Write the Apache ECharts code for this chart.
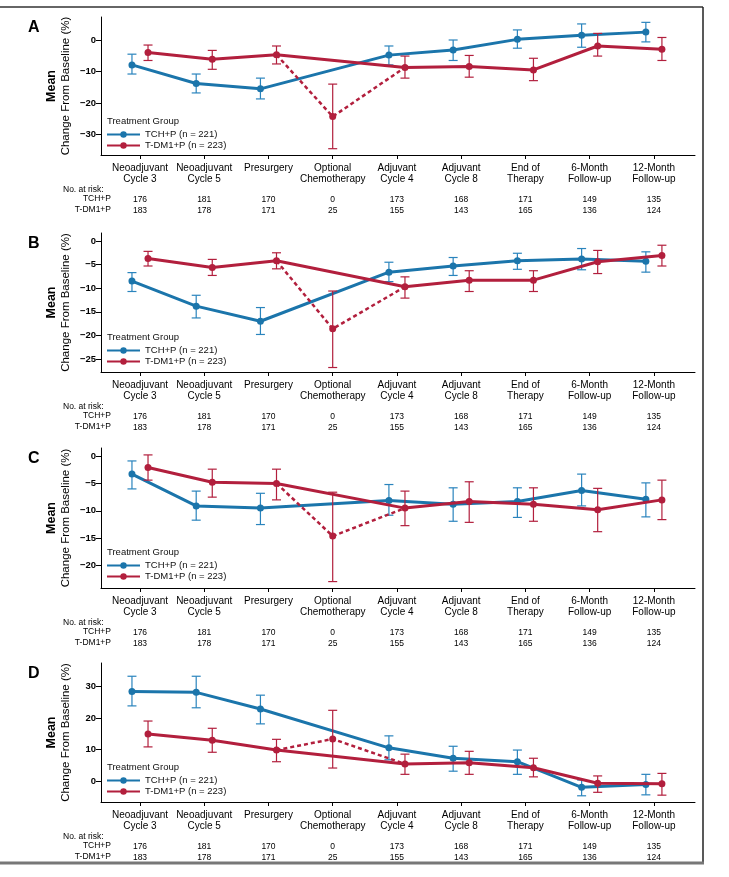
<!DOCTYPE html>
<html>
<head>
<meta charset="utf-8">
<script src="https://cdn.jsdelivr.net/npm/echarts@6/dist/echarts.min.js"></script>
<style>
html,body{margin:0;padding:0;background:#fff;}
#chart{width:729px;height:877px;}
</style>
</head>
<body>
<div id="chart"></div>
<script>
// ---------------- DATA ----------------
const categories = ['Neoadjuvant\nCycle 3','Neoadjuvant\nCycle 5','Presurgery\n ','Optional\nChemotherapy','Adjuvant\nCycle 4','Adjuvant\nCycle 8','End of\nTherapy','6-Month\nFollow-up','12-Month\nFollow-up'];
const atRiskTCH = [176,181,170,0,173,168,171,149,135];
const atRiskTDM1 = [183,178,171,25,155,143,165,136,124];
const seriesNames = ['TCH+P (n = 221)','T-DM1+P (n = 223)'];
const rowLabels = ['No. at risk:','TCH+P','T-DM1+P'];
const panelLetters = ['A','B','C','D'];

// Panel A
const aTicks = [-30,-20,-10,0];
const aTchMean = [-7.9,-13.8,-15.5,null,-4.8,-3.2,0.2,1.5,2.5];
const aTchLow  = [-10.8,-16.8,-18.7,null,-7.9,-6.5,-2.6,-2.3,-0.6];
const aTchHigh = [-4.5,-10.8,-12.1,null,-1.9,0.0,3.2,5.1,5.6];
const aTdmMean = [-4.0,-6.1,-4.7,-24.3,-8.7,-8.4,-9.5,-1.9,-2.9];
const aTdmLow  = [-6.5,-9.3,-7.6,-34.5,-12.1,-11.8,-12.9,-5.1,-6.5];
const aTdmHigh = [-1.6,-3.3,-1.9,-14.0,-5.1,-4.9,-5.8,2.1,0.8];

// Panel B
const bTicks = [-25,-20,-15,-10,-5,0];
const bTchMean = [-8.5,-13.8,-17.0,null,-6.6,-5.3,-4.2,-3.8,-4.3];
const bTchLow  = [-10.7,-16.3,-19.8,null,-8.6,-7.3,-6.0,-6.1,-6.6];
const bTchHigh = [-6.7,-11.5,-14.1,null,-4.5,-3.5,-2.6,-1.6,-2.3];
const bTdmMean = [-3.7,-5.6,-4.2,-18.6,-9.7,-8.3,-8.3,-4.4,-3.1];
const bTdmLow  = [-5.3,-7.3,-5.9,-26.8,-12.1,-10.7,-10.7,-6.9,-5.3];
const bTdmHigh = [-2.2,-3.9,-2.5,-10.6,-7.6,-6.3,-6.3,-2.0,-0.9];

// Panel C
const cTicks = [-20,-15,-10,-5,0];
const cTchMean = [-3.3,-9.1,-9.5,null,-8.1,-8.8,-8.3,-6.3,-7.9];
const cTchLow  = [-6.0,-11.7,-12.5,null,-10.8,-11.9,-11.2,-9.1,-11.1];
const cTchHigh = [-0.9,-6.4,-6.8,null,-5.2,-5.8,-5.8,-3.3,-4.9];
const cTdmMean = [-2.1,-4.8,-5.0,-14.6,-9.5,-8.3,-8.8,-9.8,-8.0];
const cTdmLow  = [-4.4,-7.5,-8.0,-22.9,-12.7,-12.1,-11.9,-13.8,-11.6];
const cTdmHigh = [0.2,-2.4,-2.4,-6.6,-6.4,-4.7,-5.8,-5.9,-4.4];

// Panel D
const dTicks = [0,10,20,30];
const dTchMean = [28.5,28.2,22.9,null,10.6,7.3,6.2,-1.9,-1.0];
const dTchLow  = [23.9,23.3,18.2,null,6.8,3.2,2.2,-4.6,-4.3];
const dTchHigh = [33.3,33.3,27.3,null,14.4,11.1,9.9,0.4,2.2];
const dTdmMean = [15.0,13.0,9.9,13.4,5.5,5.9,4.3,-0.6,-0.8];
const dTdmLow  = [10.9,9.2,6.2,4.2,2.2,2.2,1.4,-3.5,-4.4];
const dTdmHigh = [19.1,16.8,13.3,22.5,8.6,9.5,7.3,1.7,2.5];

// ---------------- LAYOUT / STYLE ----------------
const FONT = "'Liberation Sans', Arial, Helvetica, sans-serif";
const BLUE = '#1b75ab';
const RED = '#b21f3d';
const GRID_LEFT = 101, GRID_RIGHT_X = 695;
const X_MIN = -0.607, X_MAX = 8.64;
const DODGE = 0.125;
const OPTIONAL_IDX = 3;

const panels = [
  {top:17,  height:138, min:-36.5, max:7.3,  ticks:aTicks, tch:[aTchMean,aTchLow,aTchHigh], tdm:[aTdmMean,aTdmLow,aTdmHigh]},
  {top:233, height:139, min:-27.75,max:1.69, ticks:bTicks, tch:[bTchMean,bTchLow,bTchHigh], tdm:[bTdmMean,bTdmLow,bTdmHigh]},
  {top:448, height:140, min:-24.07,max:1.46, ticks:cTicks, tch:[cTchMean,cTchLow,cTchHigh], tdm:[cTdmMean,cTdmLow,cTdmHigh]},
  {top:663, height:139, min:-6.57, max:37.5, ticks:dTicks, tch:[dTchMean,dTchLow,dTchHigh], tdm:[dTdmMean,dTdmLow,dTdmHigh]}
];

const idx = categories.map((_, i) => i);
const fmtNum = v => v < 0 ? '\u2212' + Math.abs(v) : String(v);

function errRender(color){
  return function(params, api){
    const x = api.value(0), lo = api.value(1), hi = api.value(2);
    const pLo = api.coord([x, lo]), pHi = api.coord([x, hi]);
    const w = 4.5;
    const st = {stroke: color, lineWidth: 1.2, fill: null};
    return {type:'group', children:[
      {type:'line', shape:{x1:pHi[0], y1:pHi[1], x2:pLo[0], y2:pLo[1]}, style:st},
      {type:'line', shape:{x1:pHi[0]-w, y1:pHi[1], x2:pHi[0]+w, y2:pHi[1]}, style:st},
      {type:'line', shape:{x1:pLo[0]-w, y1:pLo[1], x2:pLo[0]+w, y2:pLo[1]}, style:st}
    ]};
  };
}

const grids = [], xAxes = [], yAxes = [], series = [], legends = [], graphics = [];

panels.forEach((p, i) => {
  const bottomY = p.top + p.height;
  grids.push({left: GRID_LEFT, top: p.top, width: GRID_RIGHT_X - GRID_LEFT, height: p.height, containLabel:false});
  xAxes.push({
    gridIndex: i, type: 'value', min: X_MIN, max: X_MAX,
    axisLine: {show: true, onZero: false, lineStyle: {color: '#000', width: 1}},
    splitLine: {show: false},
    axisTick: {show: true, customValues: idx, length: 4, lineStyle: {color: '#000', width: 1}},
    axisLabel: {
      customValues: idx, margin: 7.5, color: '#000',
      formatter: v => {
        const k = Math.round(v);
        const c = categories[k].split('\n');
        return '{c|' + c[0] + '}\n{c|' + c[1] + '}\n{g| }\n{n|' + atRiskTCH[k] + '}\n{n|' + atRiskTDM1[k] + '}';
      },
      rich: {
        c: {fontFamily: FONT, fontSize: 10, lineHeight: 11, color: '#000', align: 'center'},
        g: {fontFamily: FONT, fontSize: 8, lineHeight: 10},
        n: {fontFamily: FONT, fontSize: 8.5, lineHeight: 10.5, color: '#000', align: 'center'}
      }
    }
  });
  yAxes.push({
    gridIndex: i, type: 'value', min: p.min, max: p.max,
    axisLine: {show: true, onZero: false, lineStyle: {color: '#000', width: 1}},
    splitLine: {show: false},
    axisTick: {show: true, customValues: p.ticks, length: 5, lineStyle: {color: '#000'}},
    axisLabel: {customValues: p.ticks, formatter: fmtNum, fontFamily: FONT, fontSize: 9.5, fontWeight: 'bold', color: '#000', margin: 5},
    name: '{m|Mean}\n{c|Change From Baseline (%)}',
    nameLocation: 'middle', nameRotate: 90, nameGap: 28, nameMoveOverlap: false,
    nameTextStyle: {
      align: 'center',
      rich: {
        m: {fontFamily: FONT, fontSize: 12.5, fontWeight: 'bold', lineHeight: 14, color: '#000'},
        c: {fontFamily: FONT, fontSize: 11.5, lineHeight: 14, color: '#000'}
      }
    }
  });

  const [tm, tl, th] = p.tch;
  const [rm, rl, rh] = p.tdm;
  const redOff = k => (tm[k] === null ? 0 : DODGE);

  const blueData = idx.filter(k => tm[k] !== null).map(k => [k - DODGE, tm[k]]);
  const redData = idx.filter(k => k !== OPTIONAL_IDX).map(k => [k + redOff(k), rm[k]]);
  const dashData = [OPTIONAL_IDX - 1, OPTIONAL_IDX, OPTIONAL_IDX + 1].map(k => ({
    value: [k + redOff(k), rm[k]],
    symbol: k === OPTIONAL_IDX ? 'circle' : 'none'
  }));
  const blueErr = idx.filter(k => tm[k] !== null).map(k => [k - DODGE, tl[k], th[k]]);
  const redErr = idx.map(k => [k + redOff(k), rl[k], rh[k]]);

  series.push({
    type: 'custom', name: 'tch-err-' + i, xAxisIndex: i, yAxisIndex: i,
    renderItem: errRender('#2a84bd'), data: blueErr, encode: {x: 0, y: [1, 2]}, z: 2, silent: true
  });
  series.push({
    type: 'line', name: seriesNames[0], xAxisIndex: i, yAxisIndex: i, data: blueData,
    symbol: 'circle', symbolSize: 7, showSymbol: true,
    lineStyle: {color: BLUE, width: 3}, itemStyle: {color: BLUE},
    z: 3, animation: false
  });
  series.push({
    type: 'custom', name: 'tdm-err-' + i, xAxisIndex: i, yAxisIndex: i,
    renderItem: errRender(RED), data: redErr, encode: {x: 0, y: [1, 2]}, z: 4, silent: true
  });
  series.push({
    type: 'line', name: 'tdm-dash-' + i, xAxisIndex: i, yAxisIndex: i, data: dashData,
    symbolSize: 7, showSymbol: true,
    lineStyle: {color: RED, width: 2.5, type: [4, 3]}, itemStyle: {color: RED},
    z: 5, animation: false
  });
  series.push({
    type: 'line', name: seriesNames[1], xAxisIndex: i, yAxisIndex: i, data: redData,
    symbol: 'circle', symbolSize: 7, showSymbol: true,
    lineStyle: {color: RED, width: 3}, itemStyle: {color: RED},
    z: 5, animation: false
  });

  legends.push({
    data: seriesNames, orient: 'vertical', left: 106, top: p.top + 112, padding: 0,
    itemWidth: 33, itemHeight: 8, itemGap: 0, selectedMode: false,
    textStyle: {fontFamily: FONT, fontSize: 9.5, lineHeight: 11, color: '#111'}
  });

  graphics.push({type: 'text', left: 107, top: p.top + 99,
    style: {text: 'Treatment Group', font: '9.5px ' + FONT, fill: '#111'}});
  graphics.push({type: 'text', left: 28, top: p.top + 3,
    style: {text: panelLetters[i], font: 'bold 16px ' + FONT, fill: '#000'}});
  graphics.push({type: 'text', left: 63, top: bottomY + 30,
    style: {text: rowLabels[0], font: '8.5px ' + FONT, fill: '#000'}});
  graphics.push({type: 'text', right: 729 - 111, top: bottomY + 39.5,
    style: {text: rowLabels[1], font: '8.5px ' + FONT, fill: '#000'}});
  graphics.push({type: 'text', right: 729 - 111, top: bottomY + 50,
    style: {text: rowLabels[2], font: '8.5px ' + FONT, fill: '#000'}});
});

// Figure frame
graphics.push({type: 'line', shape: {x1: 0, y1: 7, x2: 703, y2: 7}, style: {stroke: '#333', lineWidth: 1.5}});
graphics.push({type: 'line', shape: {x1: 703, y1: 7, x2: 703, y2: 864}, style: {stroke: '#222', lineWidth: 1.5}});
graphics.push({type: 'line', shape: {x1: 0, y1: 863, x2: 704, y2: 863}, style: {stroke: '#777', lineWidth: 3}});

const chart = echarts.init(document.getElementById('chart'), null, {renderer: 'canvas'});
chart.setOption({
  animation: false,
  backgroundColor: '#fff',
  grid: grids, xAxis: xAxes, yAxis: yAxes, series: series, legend: legends, graphic: graphics
});
</script>
</body>
</html>
